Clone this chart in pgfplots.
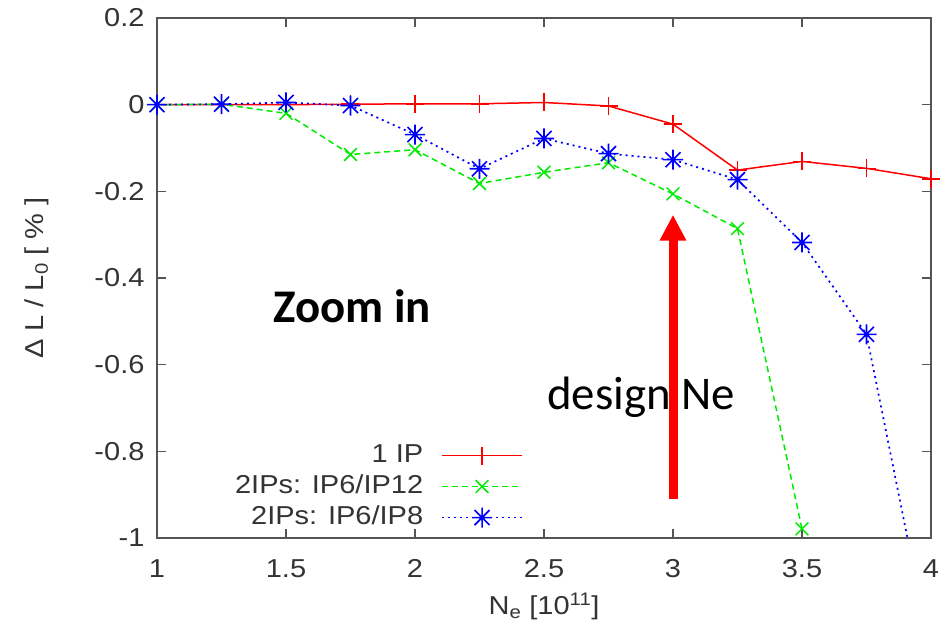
\documentclass[border=0pt]{standalone}
\usepackage{fontspec}
\setmainfont{Liberation Sans}[FakeStretch=1.12]
\newfontfamily\calibri{Carlito}
\usepackage{pgfplots}
\pgfplotsset{compat=1.18}
\usetikzlibrary{arrows.meta}
\definecolor{axgray}{HTML}{555555}
\definecolor{txtgray}{HTML}{333333}
\definecolor{gpgreen}{RGB}{0,235,0}
\definecolor{gpblue}{RGB}{0,0,255}
\pgfdeclareplotmark{gpstar}{%
 \pgfpathmoveto{\pgfqpoint{-\pgfplotmarksize}{0pt}}\pgfpathlineto{\pgfqpoint{\pgfplotmarksize}{0pt}}%
 \pgfpathmoveto{\pgfqpoint{0pt}{-\pgfplotmarksize}}\pgfpathlineto{\pgfqpoint{0pt}{\pgfplotmarksize}}%
 \pgfpathmoveto{\pgfqpoint{-0.75\pgfplotmarksize}{-0.75\pgfplotmarksize}}\pgfpathlineto{\pgfqpoint{0.75\pgfplotmarksize}{0.75\pgfplotmarksize}}%
 \pgfpathmoveto{\pgfqpoint{-0.75\pgfplotmarksize}{0.75\pgfplotmarksize}}\pgfpathlineto{\pgfqpoint{0.75\pgfplotmarksize}{-0.75\pgfplotmarksize}}%
 \pgfusepathqstroke}
\begin{document}
\begin{tikzpicture}
\begin{axis}[name=ax, scale only axis, width=774bp, height=520bp,
 xmin=1, xmax=4, ymin=-1, ymax=0.2,
 xtick={1,1.5,2,2.5,3,3.5,4}, ytick={-1,-0.8,-0.6,-0.4,-0.2,0,0.2},
 tick align=inside, major tick length=9bp, minor tick num=0,
 axis line style={axgray, line width=1.6bp}, tick style={axgray, line width=1.4bp},
 ticklabel style={font=\fontsize{26}{31}\selectfont, text=txtgray},
 /pgf/number format/assume math mode=true,
 xticklabel style={anchor=base, yshift=-39bp},
 yticklabel style={anchor=east, xshift=-9bp},
 xlabel={N\textsubscript{e} [10\textsuperscript{11}]},
 ylabel={Δ L / L\textsubscript{0} [ \% ]},
 every axis x label/.style={at={(axis description cs:0.5,-0.148)}, anchor=base, font=\fontsize{26}{31}\selectfont, text=txtgray},
 every axis y label/.style={at={(axis description cs:-0.155,0.5)}, anchor=center, rotate=90, font=\fontsize{26}{31}\selectfont, text=txtgray},
 legend style={draw=none, fill=none, font=\fontsize{26}{31}\selectfont, text=txtgray,
   at={(axis description cs:0.473,0.012)}, anchor=south east, row sep=3bp, column sep=16bp, inner sep=0pt,
   nodes={inner sep=2bp, text height=19bp, text depth=5bp}},
 legend cell align=right, legend plot pos=right,
 legend image code/.code={\draw[mark repeat=2,mark phase=2,#1] plot coordinates {(0bp,0bp) (40bp,0bp) (80bp,0bp)};},
 clip=true]
\addplot[red, line width=1.5bp, mark=+, mark size=9bp, mark options={solid}] coordinates {
 (1,0)(1.25,0)(1.5,0)(1.75,0.001)(2,0.002)(2.25,0.002)(2.5,0.005)(2.75,-0.003)(3,-0.045)(3.25,-0.151)(3.5,-0.131)(3.75,-0.147)(4,-0.171)};
\addlegendentry{1 IP}
\addplot[gpgreen, line width=1.5bp, dash pattern=on 6bp off 4bp, mark=x, mark size=9bp, mark options={solid}] coordinates {
 (1,0)(1.25,0.001)(1.5,-0.02)(1.75,-0.115)(2,-0.104)(2.25,-0.182)(2.5,-0.156)(2.75,-0.134)(3,-0.206)(3.25,-0.286)(3.5,-0.979)};
\addlegendentry{2IPs: IP6/IP12}
\addplot[gpblue, line width=1.7bp, dash pattern=on 2bp off 4bp, mark=gpstar, mark size=10bp, mark options={solid, line width=1.6bp}] coordinates {
 (1,0)(1.25,0.001)(1.5,0.005)(1.75,-0.002)(2,-0.069)(2.25,-0.148)(2.5,-0.078)(2.75,-0.113)(3,-0.127)(3.25,-0.173)(3.5,-0.318)(3.75,-0.530)(4,-1.27)};
\addlegendentry{2IPs: IP6/IP8}
\node[anchor=base west, font=\calibri\bfseries\fontsize{47}{50}\selectfont, inner sep=0pt] at (axis cs:1.45,-0.503) {Zoom in};
\node[anchor=base west, font=\calibri\fontsize{47}{50}\selectfont, inner sep=0pt] at (axis cs:2.512,-0.703) {design Ne};
\draw[red, line width=9bp, -{Triangle[width=25bp,length=26bp]}] (axis cs:3,-0.911) -- (axis cs:3,-0.254);
\end{axis}
\pgfresetboundingbox
\path[use as bounding box] ([xshift=-157bp,yshift=-92bp]ax.south west) rectangle ([xshift=10bp,yshift=18bp]ax.north east);
\end{tikzpicture}
\end{document}
